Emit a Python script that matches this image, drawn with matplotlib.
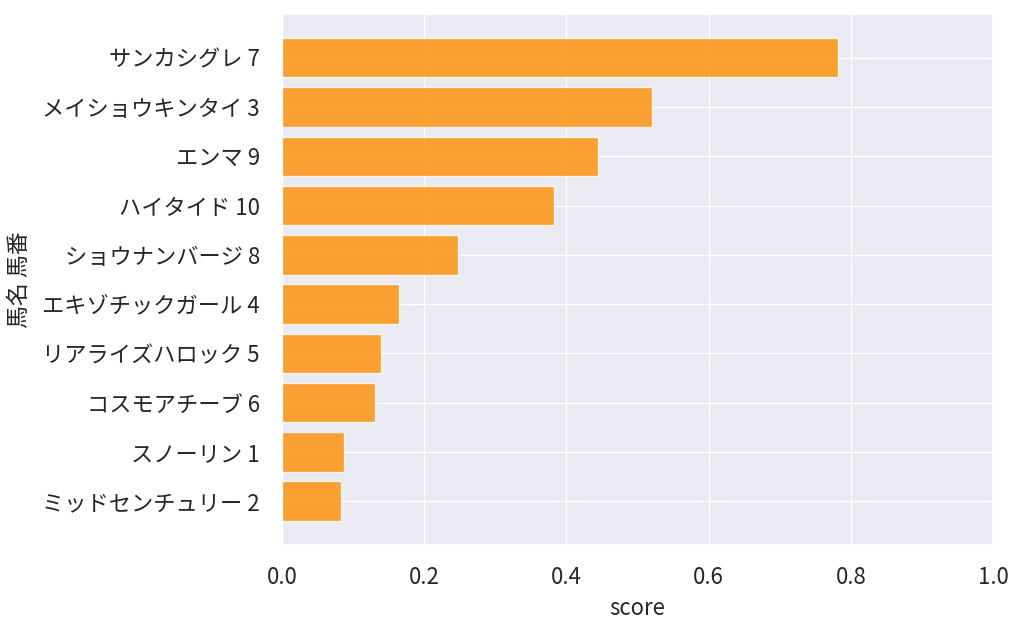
import matplotlib

matplotlib.use("Agg")
import matplotlib.pyplot as plt
import seaborn as sns

# horse name + number, top to bottom
labels = [
    "サンカシグレ 7",
    "メイショウキンタイ 3",
    "エンマ 9",
    "ハイタイド 10",
    "ショウナンバージ 8",
    "エキゾチックガール 4",
    "リアライズハロック 5",
    "コスモアチーブ 6",
    "スノーリン 1",
    "ミッドセンチュリー 2",
]
scores = [0.782, 0.520, 0.444, 0.382, 0.247, 0.165, 0.139, 0.131, 0.087, 0.0835]

sns.set_theme(style="darkgrid", font_scale=1.4)
plt.rcParams["font.family"] = ["Noto Sans CJK JP", "DejaVu Sans"]

fig, ax = plt.subplots(figsize=(10.24, 6.29), dpi=100)
fig.subplots_adjust(left=0.2754, right=0.9697, top=0.978, bottom=0.1335)

ax.barh(labels, scores, height=0.8, color="darkorange", alpha=0.8)
ax.invert_yaxis()
ax.set_xlim(0, 1.0)
ax.tick_params(axis="y", labelsize=16, pad=10)
ax.tick_params(axis="x", labelsize=16, pad=9)
ax.set_xlabel("score", fontsize=16, labelpad=6)
ax.set_ylabel("馬名 馬番", fontsize=16.5, labelpad=8)

fig.savefig("out.png", dpi=100)
